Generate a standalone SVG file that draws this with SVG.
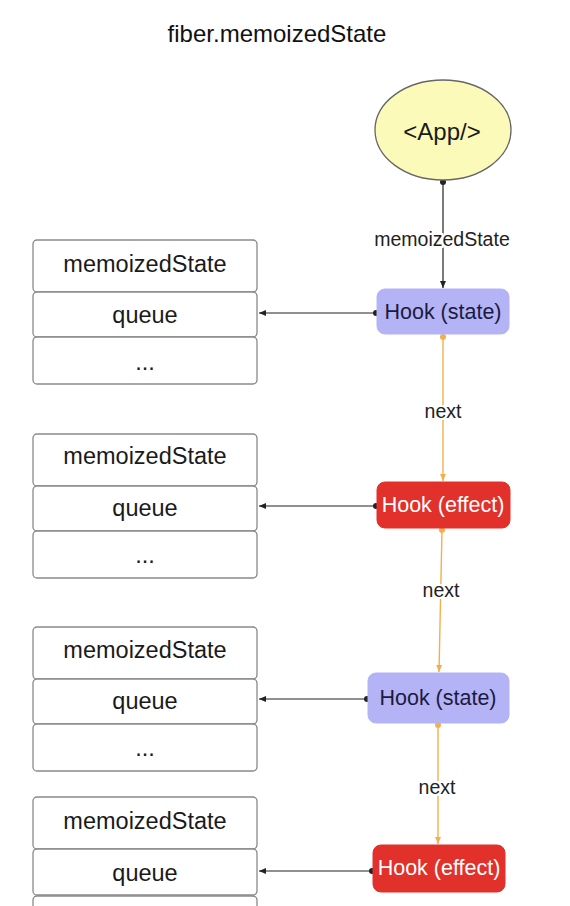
<svg xmlns="http://www.w3.org/2000/svg" width="570" height="906" viewBox="0 0 570 906">
<style>
text{font-family:"Liberation Sans",Arial,sans-serif;text-anchor:middle;dominant-baseline:central}
.title{font-size:24px;fill:#111}
.cell{fill:#fff;stroke:#8a8a8a;stroke-width:1.3}
.ct{font-size:23.5px;fill:#1a1a1a}
.hs{fill:#b4b3f6;stroke:#b4b3f6}
.he{fill:#e2302a;stroke:#e2302a}
.hst{font-size:21.5px;fill:#1b1b40}
.het{font-size:21.5px;fill:#fff}
.lbl{font-size:19.5px;fill:#222}
.blk{stroke:#222;stroke-width:1.2;fill:none}
.org{stroke:#f2b04a;stroke-width:1.4;fill:none}
</style>
<defs>
<marker id="ab" markerWidth="8" markerHeight="8" refX="7" refY="4" orient="auto" markerUnits="userSpaceOnUse"><path d="M0,1 L7,4 L0,7 Z" fill="#222"/></marker>
<marker id="db" markerWidth="8" markerHeight="8" refX="4" refY="4" markerUnits="userSpaceOnUse"><circle cx="4" cy="4" r="3" fill="#222"/></marker>
<marker id="ao" markerWidth="8" markerHeight="8" refX="7" refY="4" orient="auto" markerUnits="userSpaceOnUse"><path d="M0,1 L7,4 L0,7 Z" fill="#f2b04a"/></marker>
<marker id="do" markerWidth="8" markerHeight="8" refX="4" refY="4" markerUnits="userSpaceOnUse"><circle cx="4" cy="4" r="3" fill="#f2b04a"/></marker>
</defs>
<rect width="570" height="906" fill="#fff"/>
<text class="title" x="277" y="33">fiber.memoizedState</text>

<g id="connectors">
<line class="blk" x1="443" y1="182" x2="443" y2="288" marker-start="url(#db)" marker-end="url(#ab)"/>
<text class="lbl" x="442" y="239" style="paint-order:stroke" stroke="#fff" stroke-width="4">memoizedState</text>
<line class="blk" x1="376" y1="313" x2="259" y2="313" marker-start="url(#db)" marker-end="url(#ab)"/>
<line class="org" x1="443" y1="337" x2="443" y2="481" marker-start="url(#do)" marker-end="url(#ao)"/>
<text class="lbl" x="443" y="411" style="paint-order:stroke" stroke="#fff" stroke-width="4">next</text>
<line class="blk" x1="376" y1="506" x2="259" y2="506" marker-start="url(#db)" marker-end="url(#ab)"/>
<line class="org" x1="442" y1="530" x2="439" y2="672" marker-start="url(#do)" marker-end="url(#ao)"/>
<text class="lbl" x="441" y="590" style="paint-order:stroke" stroke="#fff" stroke-width="4">next</text>
<line class="blk" x1="367" y1="699" x2="259" y2="699" marker-start="url(#db)" marker-end="url(#ab)"/>
<line class="org" x1="438" y1="725" x2="438" y2="844" marker-start="url(#do)" marker-end="url(#ao)"/>
<text class="lbl" x="437" y="787" style="paint-order:stroke" stroke="#fff" stroke-width="4">next</text>
<line class="blk" x1="372" y1="871" x2="259" y2="871" marker-start="url(#db)" marker-end="url(#ab)"/>
</g>

<g id="app">
<ellipse cx="443" cy="130" rx="68" ry="50" fill="#fcfab8" stroke="#666" stroke-width="1.3"/>
<text x="442" y="131" style="font-size:24px;fill:#1a1a1a">&lt;App/&gt;</text>
</g>

<g id="hook1">
<rect class="hs" x="377" y="289" width="132" height="45" rx="8"/>
<text class="hst" x="443" y="312">Hook (state)</text>
</g>
<g id="hook2">
<rect class="he" x="377" y="482" width="133" height="46" rx="8"/>
<text class="het" x="443" y="505">Hook (effect)</text>
</g>
<g id="hook3">
<rect class="hs" x="368" y="673" width="141" height="50" rx="8"/>
<text class="hst" x="438" y="698">Hook (state)</text>
</g>
<g id="hook4">
<rect class="he" x="373" y="845" width="132" height="47" rx="8"/>
<text class="het" x="439" y="868">Hook (effect)</text>
</g>

<g id="stack1">
<rect class="cell" x="33" y="240" width="224" height="52" rx="4"/>
<text class="ct" x="145" y="264">memoizedState</text>
<rect class="cell" x="33" y="292" width="224" height="45" rx="4"/>
<text class="ct" x="145" y="315">queue</text>
<rect class="cell" x="33" y="337" width="224" height="47" rx="4"/>
<text class="ct" x="145" y="362">...</text>
</g>
<g id="stack2">
<rect class="cell" x="33" y="434" width="224" height="52" rx="4"/>
<text class="ct" x="145" y="456">memoizedState</text>
<rect class="cell" x="33" y="486" width="224" height="45" rx="4"/>
<text class="ct" x="145" y="508">queue</text>
<rect class="cell" x="33" y="531" width="224" height="47" rx="4"/>
<text class="ct" x="145" y="555">...</text>
</g>
<g id="stack3">
<rect class="cell" x="33" y="627" width="224" height="52" rx="4"/>
<text class="ct" x="145" y="650">memoizedState</text>
<rect class="cell" x="33" y="679" width="224" height="45" rx="4"/>
<text class="ct" x="145" y="701">queue</text>
<rect class="cell" x="33" y="724" width="224" height="47" rx="4"/>
<text class="ct" x="145" y="748">...</text>
</g>
<g id="stack4">
<rect class="cell" x="33" y="797" width="224" height="52" rx="4"/>
<text class="ct" x="145" y="821">memoizedState</text>
<rect class="cell" x="33" y="849" width="224" height="46" rx="4"/>
<text class="ct" x="145" y="873">queue</text>
<rect class="cell" x="33" y="896" width="224" height="47" rx="4"/>
</g>
</svg>
